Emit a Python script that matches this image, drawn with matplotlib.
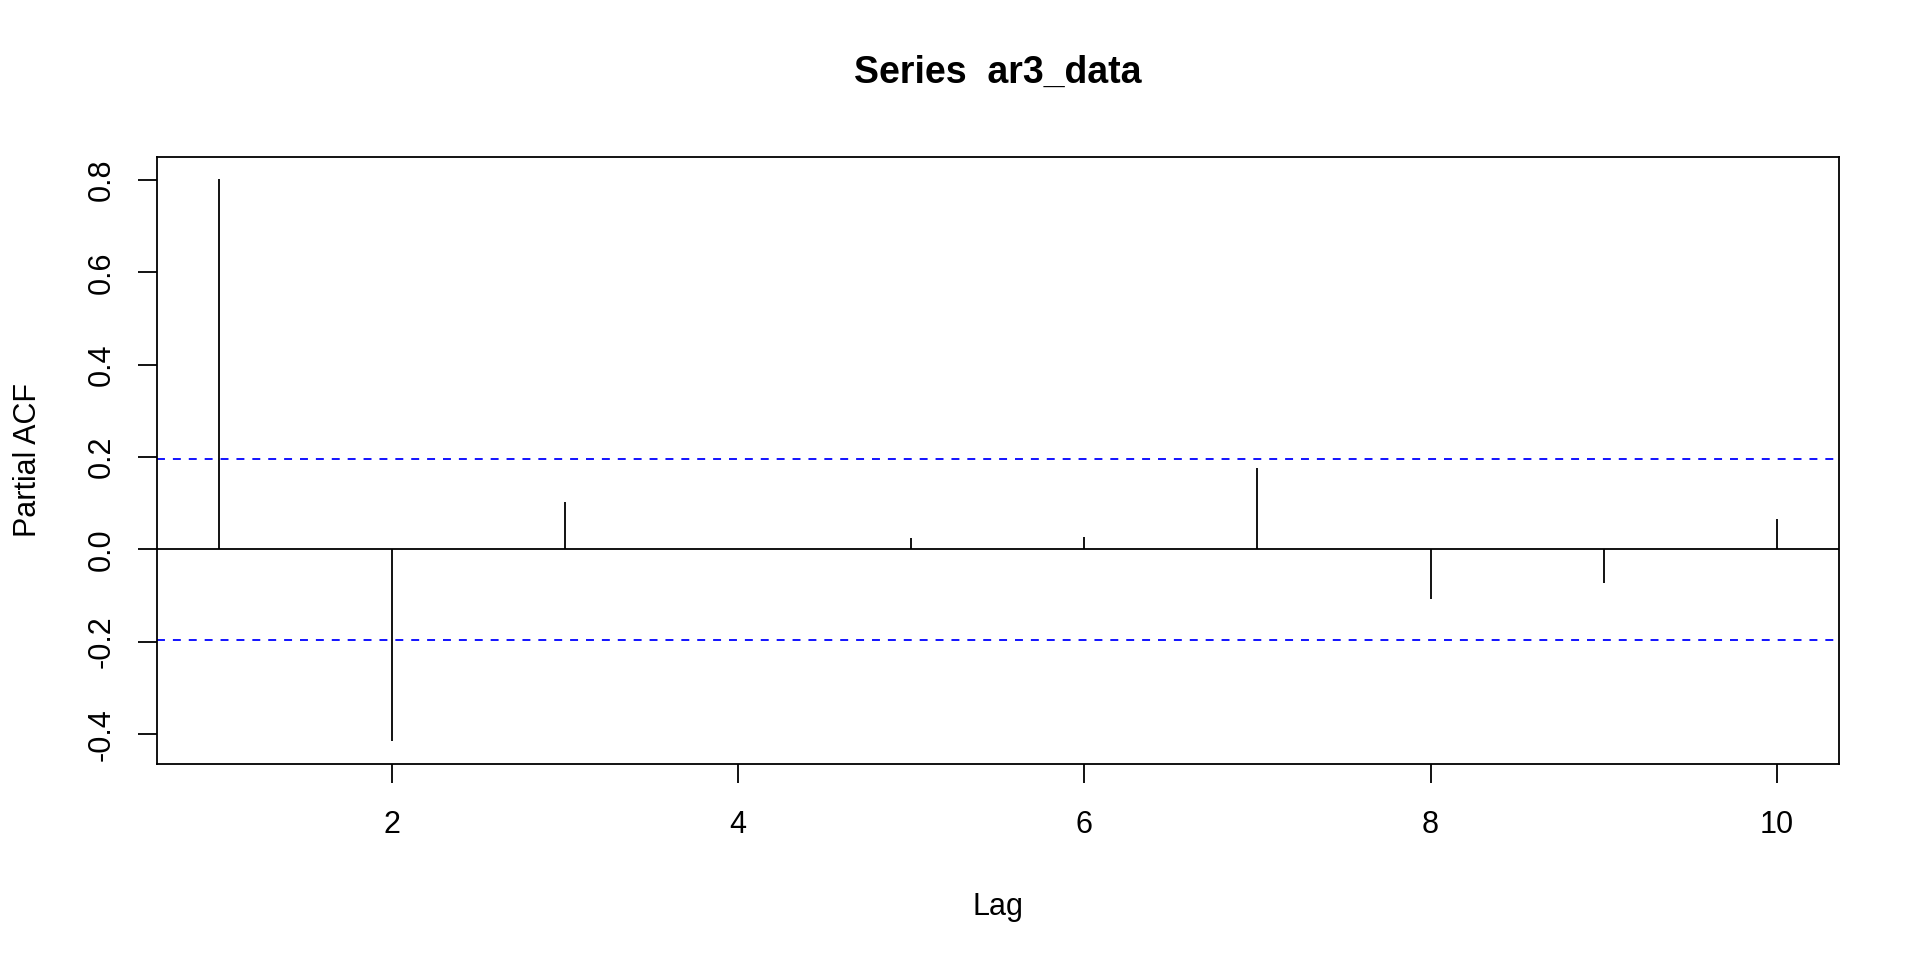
import matplotlib
matplotlib.use("Agg")
import matplotlib.pyplot as plt
import numpy as np

plt.rcParams['font.family'] = ['Liberation Sans', 'DejaVu Sans']

# partial autocorrelations
lags = [1, 2, 3, 4, 5, 6, 7, 8, 9, 10]
pacf_values = [0.8015, -0.415, 0.1034, 0.001, 0.0253, 0.0275, 0.1768, -0.1067, -0.0736, 0.0664]
conf_limit = 0.196

x_ticks = [2, 4, 6, 8, 10]
y_ticks = [-0.4, -0.2, 0.0, 0.2, 0.4, 0.6, 0.8]
y_tick_labels = ["-0.4", "-0.2", "0.0", "0.2", "0.4", "0.6", "0.8"]

title = "Series  ar3_data"
x_label = "Lag"
y_label = "Partial ACF"

LW = 1.3
FS = 22

fig = plt.figure(figsize=(19.2, 9.6), dpi=100)
ax = fig.add_axes([0.0816, 0.2045, 0.9578 - 0.0816, 0.8368 - 0.2045])

ax.vlines(lags, 0, pacf_values, colors='black', linewidth=LW)
ax.axhline(0, color='black', linewidth=LW)
for lim in (conf_limit, -conf_limit):
    ax.axhline(lim, color='blue', linewidth=LW, linestyle=(0, (4.4, 4.4)))

# R style 4% padding around the data range
lo = min(min(pacf_values), -conf_limit)
hi = max(max(pacf_values), conf_limit)
ax.set_xlim(1 - 0.04 * 9, 10 + 0.04 * 9)
ax.set_ylim(lo - 0.04 * (hi - lo), hi + 0.04 * (hi - lo))

ax.set_xticks(x_ticks)
ax.set_xticklabels([str(t) for t in x_ticks], fontsize=FS)
ax.set_yticks(y_ticks)
ax.set_yticklabels(y_tick_labels, fontsize=FS, rotation=90, va='center')

ax.tick_params(axis='both', direction='out', length=14, width=LW, color='black')
ax.tick_params(axis='x', pad=19.5)
ax.tick_params(axis='y', pad=15)

for spine in ax.spines.values():
    spine.set_linewidth(LW)
    spine.set_color('black')

ax.set_xlabel(x_label, fontsize=FS, labelpad=37)
ax.set_ylabel(y_label, fontsize=FS, labelpad=31)
ax.set_title(title, fontsize=27, fontweight='bold', pad=53)

fig.savefig("out.png", dpi=100, facecolor='white')
